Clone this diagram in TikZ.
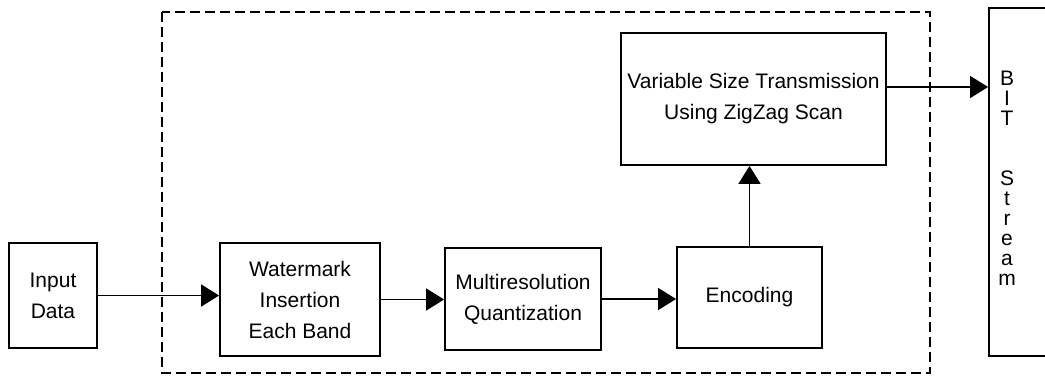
\documentclass[tikz,border=0pt]{standalone}
\usepackage{fontspec}
\setmainfont{Liberation Sans}
\usetikzlibrary{arrows.meta,calc}

\begin{document}
\begin{tikzpicture}[x=0.5pt,y=-0.5pt,
    blockbox/.style={draw,line width=0.9pt,align=center,inner sep=2pt,
      font=\fontsize{10.5}{15.5}\selectfont},
    flow/.style={line width=0.75pt,-{Triangle[length=9pt,width=11pt]}}]
        \clip (0,0) rectangle (1045,376);
        % processing boundary
        \draw[line width=0.8pt,dash pattern=on 5pt off 2.5pt] (162,12) rectangle (930,373);
        \node[blockbox,minimum width=44pt,minimum height=52.5pt] (input) at (53,295.5) {Input\\Data};
        \node[blockbox,minimum width=80pt,minimum height=56.5pt] (watermark) at (300,299.5) {Watermark\\Insertion\\Each Band};
        \node[blockbox,minimum width=78pt,minimum height=51pt] (multires) at (523,299) {Multiresolution\\Quantization};
        \node[blockbox,minimum width=72.5pt,minimum height=50.5pt] (encoding) at (749.5,297.5) {Encoding};
        \node[blockbox,minimum width=132.5pt,minimum height=66pt] (variable) at (753.5,99) {Variable Size Transmission\\Using ZigZag Scan};
        \node[draw,line width=0.9pt,minimum width=32pt,minimum height=174pt] (bitbox) at (1021,182) {};
        \node[align=center,font=\fontsize{10.5}{10}\selectfont] (bitlabel) at (1007,178) {B\\I\\T\\[20pt]S\\t\\r\\e\\a\\m};
        % connectors
        \draw[flow] (input.east) -- (input.east -| watermark.west);
        \draw[flow] (watermark.east) -- (watermark.east -| multires.west);
        \draw[flow] (multires.east) -- (multires.east -| encoding.west);
        \draw[flow] (encoding.north) -- (encoding.north |- variable.south);
        \draw[flow] ([yshift=6pt]variable.east) -- ([yshift=6pt]variable.east -| bitbox.west);
      \end{tikzpicture}
\end{document}
